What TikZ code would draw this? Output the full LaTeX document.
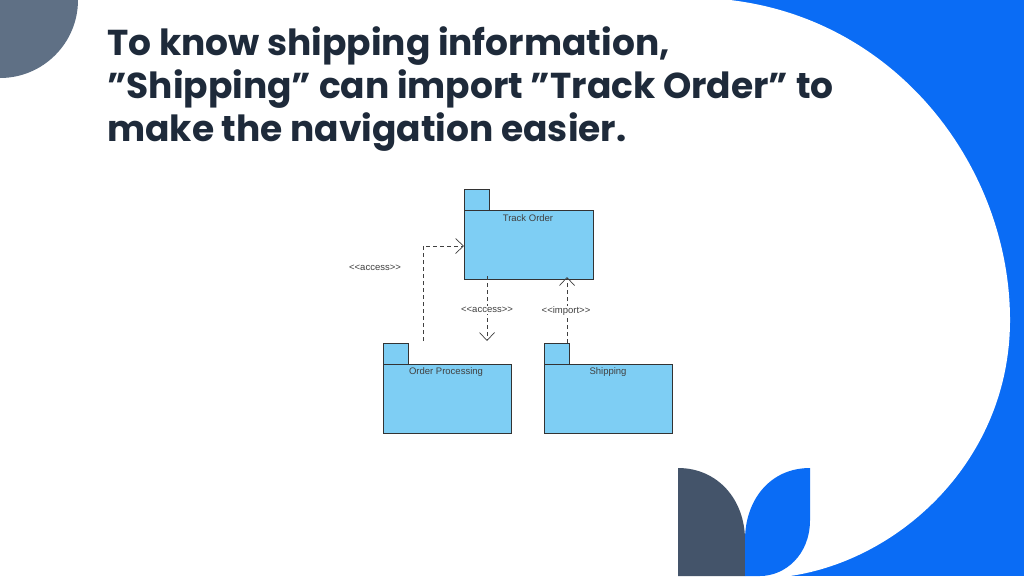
\documentclass[tikz,border=0pt]{standalone}
\usepackage{fontspec}
\setmainfont{Poppins}
\newfontfamily\diag{Liberation Sans}
\usetikzlibrary{arrows.meta}
\definecolor{bblue}{HTML}{0A6CF5}
\definecolor{pkg}{HTML}{7ECEF4}
\definecolor{slate}{HTML}{44546A}
\definecolor{greyc}{HTML}{5F7085}
\definecolor{titlec}{HTML}{1E2A3A}
\newcommand{\dq}{\char"22\relax}
\tikzset{
 pkgbox/.style={draw=black!80,fill=pkg,line width=0.8pt},
 dep/.style={draw=black!75,dashed,dash pattern=on 4pt off 3pt,line width=0.7pt,-{Straight Barb[length=8pt,width=15pt]}},
 lbl/.style={font=\diag\fontsize{9.5}{11}\selectfont,text=black!75,inner sep=0pt},
 ttl/.style={font=\bfseries\fontsize{36}{43}\selectfont,text=titlec,anchor=base west,inner sep=0pt}
}
\begin{document}
\begin{tikzpicture}[x=1pt,y=-1pt]
\useasboundingbox (0,0) rectangle (1024,576);
\fill[bblue] (0,0) rectangle (1024,576);
\fill[white] (0,0) -- (730,0) .. controls (900,20) and (1010,170) .. (1010,320) .. controls (1010,460) and (900,560) .. (790,576) -- (0,576) -- cycle;
\fill[greyc] (0,0) -- (78,0) arc[start angle=0,end angle=90,radius=78] -- cycle;
\fill[slate] (745,576) -- (678,576) -- (678,468) .. controls (718,468) and (745,500) .. (745,540) -- cycle;
\fill[bblue] (745,576) -- (745,540) .. controls (745,500) and (770,468) .. (810,468) -- (810,520) .. controls (810,555) and (785,576) .. (760,576) -- cycle;
\node[ttl] (t1) at (107,55) {To know shipping information,};
\node[ttl] (t2) at (107,98) {\dq Shipping\dq{} can import \dq Track Order\dq{} to};
\node[ttl] (t3) at (107,141) {make the navigation easier.};
% packages
\draw[pkgbox] (464,189) rectangle (489,210);
\draw[pkgbox] (464,210) rectangle (593,279);
\node[lbl] (to) at (528,218) {Track Order};
\coordinate (toL) at (464,246);
\coordinate (toB) at (487,279);
\coordinate (toBr) at (567,279);
\draw[pkgbox] (383,343) rectangle (408,364);
\draw[pkgbox] (383,364) rectangle (511,433);
\node[lbl] (op) at (446,372) {Order Processing};
\draw[pkgbox] (544,343) rectangle (569,364);
\draw[pkgbox] (544,364) rectangle (672,433);
\node[lbl] (sh) at (608,372) {Shipping};
\coordinate (opT) at (423,341);
\coordinate (opA) at (487,341);
\coordinate (shT) at (567,343);
\draw[dep] (opT) |- (toL);
\draw[dep] ([yshift=3]toB) -- (opA);
\draw[dep] (shT) -- ([yshift=2]toBr);
\node[lbl] (l1) at (375,268) {<{}<access>{}>};
\node[lbl,fill=white,inner sep=1pt] (l2) at (487,310) {<{}<access>{}>};
\node[lbl,fill=white,inner sep=1pt] (l3) at (566,311) {<{}<import>{}>};
\end{tikzpicture}
\end{document}
